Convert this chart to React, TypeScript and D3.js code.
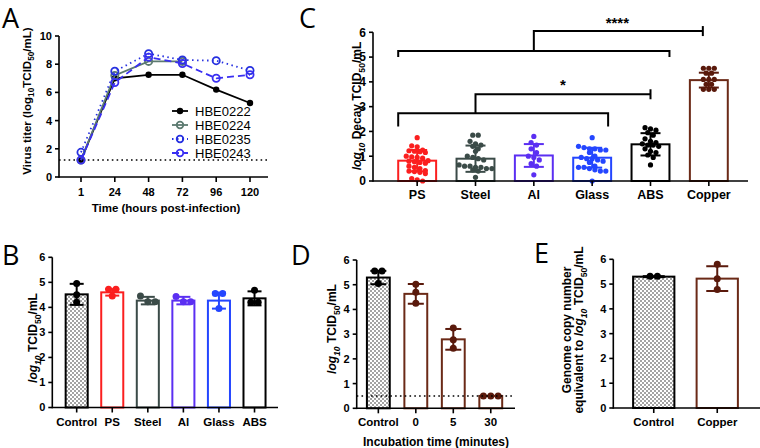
import * as d3 from "d3";

const FONT = "'Liberation Sans', Arial, Helvetica, sans-serif";

// ---- panel A: growth curves
const hours = ["1", "24", "48", "72", "96", "120"];
const hbe0222 = [1.2, 7.0, 7.25, 7.25, 6.2, 5.25];
const hbe0224 = [1.2, 7.2, 8.2, 8.2, null, null];
const hbe0235 = [1.75, 7.5, 8.75, 8.3, 8.25, 7.55];
const hbe0243 = [1.2, 6.7, 8.5, 8.05, 7.0, 7.25];
const limitA = 1.2;

// ---- panel B: titer after drying on surfaces
const surfB = ["Control", "PS", "Steel", "Al", "Glass", "ABS"];
const meanB = [4.52, 4.6, 4.27, 4.27, 4.27, 4.36];
const sdB = [0.42, 0.13, 0.15, 0.15, 0.32, 0.28];
const ptsB = [
  [4.95, 4.5, 4.2],
  [4.72, 4.72, 4.45],
  [4.45, 4.22, 4.22],
  [4.43, 4.22, 4.22],
  [4.55, 4.55, 3.95],
  [4.68, 4.2, 4.2],
];

// ---- panel C: decay per surface
const surfC = ["PS", "Steel", "Al", "Glass", "ABS", "Copper"];
const meanC = [0.82, 0.9, 1.03, 0.94, 1.48, 4.07];
const sdC = [0.43, 0.53, 0.46, 0.4, 0.45, 0.3];
const ptsC = [
  [1.75, 1.42, 1.38, 1.25, 1.22, 1.2, 1.18, 1.15, 1.0, 0.97, 0.95, 0.92, 0.82, 0.8, 0.78, 0.75, 0.72, 0.6, 0.55, 0.5, 0.42, 0.4, 0.38, 0.35, 0.3, 0.1, 0.05, 0.0],
  [1.85, 1.85, 1.6, 1.5, 1.45, 1.4, 1.3, 1.2, 1.0, 0.95, 0.9, 0.85, 0.65, 0.6, 0.6, 0.55, 0.55, 0.5, 0.5, 0.45, 0.4, 0.15],
  [1.8, 1.55, 1.45, 1.3, 1.15, 1.0, 0.95, 0.85, 0.7, 0.6, 0.25],
  [1.75, 1.4, 1.35, 1.3, 1.3, 1.25, 1.25, 1.15, 1.0, 0.95, 0.9, 0.9, 0.85, 0.8, 0.75, 0.6, 0.55, 0.55, 0.5, 0.45, 0.4, 0.4, 0.0],
  [2.15, 2.1, 2.05, 1.95, 1.85, 1.7, 1.6, 1.55, 1.5, 1.45, 1.45, 1.4, 1.3, 1.2, 1.15, 1.05, 0.95, 0.65],
  [4.55, 4.55, 4.55, 4.35, 4.35, 4.1, 4.1, 4.1, 3.9, 3.9, 3.7, 3.7, 3.7],
];

// ---- panel D: incubation on copper
const timeD = ["Control", "0", "5", "30"];
const meanD = [5.29, 4.63, 2.79, 0.5];
const sdD = [0.27, 0.4, 0.42, 0];
const ptsD = [
  [5.55, 5.55, 5.05],
  [5.02, 4.7, 4.25],
  [3.25, 2.77, 2.43],
  [0.5, 0.5, 0.5],
];
const limitD = 0.5;

// ---- panel E: genome copies
const groupE = ["Control", "Copper"];
const meanE = [5.3, 5.22];
const sdE = [0.02, 0.5];
const ptsE = [
  [5.32, 5.32],
  [5.8, 5.22, 4.78],
];

const RED = "#fb1f1f";
const SLATE = "#3b4b48";
const PURPLE = "#5b2ff2";
const BLUE = "#2446ff";
const BROWN = "#6b2a17";
const BROWN_DOT = "#5a1a0c";

// rows of dots, spread symmetrically like a column scatter
function swarm(values: number[], y: (v: number) => number, r: number) {
  const sorted = values.map((v) => y(v)).sort((a, b) => a - b);
  const rows: number[][] = [];
  let start = -1e9;
  sorted.forEach((py) => {
    if (py - start > r * 1.8) {
      rows.push([]);
      start = py;
    }
    rows[rows.length - 1].push(py);
  });
  const out: { dx: number; py: number }[] = [];
  rows.forEach((row) => {
    const n = row.length;
    row.forEach((py, i) => out.push({ dx: (i - (n - 1) / 2) * r * 2.1, py }));
  });
  return out;
}

// text with subscripts; parts: [text, "sub" | "it" | "itsub" | ""]
type Part = [string, string];
function Rich({ parts, size }: { parts: Part[]; size: number }) {
  let shift = 0;
  const drop = size * 0.3;
  return (
    <>
      {parts.map(([t, k], i) => {
        const sub = k.includes("sub");
        const target = sub ? drop : 0;
        const dy = target - shift;
        shift = target;
        return (
          <tspan
            key={i}
            dy={dy}
            fontSize={sub ? size * 0.72 : size}
            fontStyle={k.includes("it") ? "italic" : "normal"}
          >
            {t}
          </tspan>
        );
      })}
    </>
  );
}

function YAxis({ x, y, max, step, font }: { x: number; y: d3.ScaleLinear<number, number>; max: number; step: number; font: number }) {
  const ticks = d3.range(0, max + 0.001, step);
  return (
    <g>
      <line x1={x} x2={x} y1={y(0) + 0.8} y2={y(max)} stroke="#000" strokeWidth={1.6} />
      {ticks.map((t) => (
        <g key={t}>
          <line x1={x - 4} x2={x} y1={y(t)} y2={y(t)} stroke="#000" strokeWidth={1.6} />
          <text x={x - 7} y={y(t)} dy="0.36em" textAnchor="end" fontSize={font} fontWeight="bold" fontFamily={FONT}>
            {t}
          </text>
        </g>
      ))}
    </g>
  );
}

type BarProps = {
  cats: string[];
  means: number[];
  sds: number[];
  pts: number[][];
  strokes: string[];
  dots: string[];
  range: [number, number];
  axisX0: number;
  axisX1: number;
  y0: number;
  y6: number;
  pad: number;
  cap: number;
  r: number;
  font: number;
  limit?: number;
  children?: any;
};

function BarPanel(p: BarProps) {
  const y = d3.scaleLinear().domain([0, 6]).range([p.y0, p.y6]);
  const x = d3.scaleBand<string>().domain(p.cats).range(p.range).paddingInner(p.pad).paddingOuter(p.pad / 2);
  const bw = x.bandwidth();
  return (
    <g>
      {p.cats.map((c, i) => {
        const cx = (x(c) as number) + bw / 2;
        const m = p.means[i];
        const sd = p.sds[i];
        return (
          <g key={c}>
            <rect
              x={x(c)}
              y={y(m)}
              width={bw}
              height={y(0) - y(m)}
              fill={c === "Control" ? "url(#stipple)" : "#fff"}
              stroke={p.strokes[i]}
              strokeWidth={2}
            />
            {swarm(p.pts[i], y, p.r).map((d, k) => (
              <circle key={k} cx={cx + d.dx} cy={d.py} r={p.r} fill={p.dots[i]} />
            ))}
            {sd > 0 && (
              <g stroke={p.strokes[i] === "#000" ? "#000" : p.dots[i]} strokeWidth={2}>
                <line x1={cx} x2={cx} y1={y(m + sd)} y2={y(m - sd)} />
                <line x1={cx - p.cap} x2={cx + p.cap} y1={y(m + sd)} y2={y(m + sd)} />
                <line x1={cx - p.cap} x2={cx + p.cap} y1={y(m - sd)} y2={y(m - sd)} />
              </g>
            )}
          </g>
        );
      })}
      {p.limit !== undefined && (
        <line x1={p.axisX0} x2={p.axisX1} y1={y(p.limit)} y2={y(p.limit)} stroke="#000" strokeWidth={1.5} strokeDasharray="1.6,3.2" />
      )}
      <YAxis x={p.axisX0} y={y} max={6} step={1} font={p.font} />
      <line x1={p.axisX0} x2={p.axisX1} y1={y(0)} y2={y(0)} stroke="#000" strokeWidth={1.6} />
      {p.cats.map((c) => {
        const cx = (x(c) as number) + bw / 2;
        return (
          <g key={c}>
            <line x1={cx} x2={cx} y1={y(0)} y2={y(0) + 5} stroke="#000" strokeWidth={1.6} />
            <text x={cx} y={y(0) + 18} textAnchor="middle" fontSize={p.font + 0.5} fontWeight="bold" fontFamily={FONT}>
              {c}
            </text>
          </g>
        );
      })}
      {p.children && p.children(x, y)}
    </g>
  );
}

function PanelA() {
  const x = d3.scalePoint<string>().domain(hours).range([81, 250]);
  const y = d3.scaleLinear().domain([0, 10]).range([177, 36]);
  const series = [
    { name: "HBE0222", v: hbe0222, color: "#000", dash: "none", filled: true },
    { name: "HBE0224", v: hbe0224, color: "#5c7a70", dash: "none", filled: false },
    { name: "HBE0235", v: hbe0235, color: "#2630e0", dash: "1.5,3.5", filled: false },
    { name: "HBE0243", v: hbe0243, color: "#3a2ff2", dash: "7,4", filled: false },
  ];
  const line = d3
    .line<number | null>()
    .defined((d) => d !== null)
    .x((_, i) => x(hours[i]) as number)
    .y((d) => y(d as number));
  return (
    <g>
      <line x1={59} x2={268} y1={y(limitA)} y2={y(limitA)} stroke="#000" strokeWidth={1.5} strokeDasharray="1.6,3.2" />
      {series.map((s) => (
        <g key={s.name}>
          <path d={line(s.v) as string} fill="none" stroke={s.color} strokeWidth={1.8} strokeDasharray={s.dash} />
          {s.v.map((d, i) =>
            d === null ? null : (
              <circle
                key={i}
                cx={x(hours[i])}
                cy={y(d)}
                r={s.filled ? 3.2 : 3.6}
                fill={s.filled ? s.color : "none"}
                stroke={s.color}
                strokeWidth={s.filled ? 0 : 1.8}
              />
            )
          )}
        </g>
      ))}
      {series.map((s, i) => {
        const ly = 111 + i * 14;
        return (
          <g key={s.name}>
            <line x1={172} x2={188} y1={ly} y2={ly} stroke={s.color} strokeWidth={1.8} strokeDasharray={s.dash} />
            <circle cx={180} cy={ly} r={s.filled ? 3.2 : 3.3} fill={s.filled ? s.color : "none"} stroke={s.color} strokeWidth={s.filled ? 0 : 1.8} />
            <text x={195} y={ly} dy="0.36em" fontSize={13} fontFamily={FONT}>
              {s.name}
            </text>
          </g>
        );
      })}
      <YAxis x={59} y={y} max={10} step={2} font={11} />
      <line x1={59} x2={268} y1={177} y2={177} stroke="#000" strokeWidth={1.6} />
      {hours.map((h) => (
        <g key={h}>
          <line x1={x(h)} x2={x(h)} y1={177} y2={182} stroke="#000" strokeWidth={1.6} />
          <text x={x(h)} y={196} textAnchor="middle" fontSize={11} fontWeight="bold" fontFamily={FONT}>
            {h}
          </text>
        </g>
      ))}
      <text x={166} y={212} textAnchor="middle" fontSize={11.5} fontWeight="bold" fontFamily={FONT}>
        Time (hours post-infection)
      </text>
      <text transform="translate(31,101) rotate(-90)" textAnchor="middle" fontWeight="bold" fontFamily={FONT}>
        <Rich size={11.5} parts={[["Virus titer (log", ""], ["10", "sub"], ["TCID", ""], ["50", "sub"], ["/mL)", ""]]} />
      </text>
    </g>
  );
}

const Letter = ({ x, y, t }: { x: number; y: number; t: string }) => (
  <text x={x} y={y} fontSize={27} fontFamily="'Open Sans', 'DejaVu Sans', sans-serif" fontWeight={400}>
    {t}
  </text>
);

const titerParts: Part[] = [["log", "it"], ["10", "itsub"], [" TCID", ""], ["50", "sub"], ["/mL", ""]];

export default function App() {
  return (
    <svg width={760} height={448} style={{ position: "absolute", left: 0, top: 0, background: "#fff" }}>
      <defs>
        <pattern id="stipple" width={4} height={4} patternUnits="userSpaceOnUse">
          <rect width={4} height={4} fill="#fff" />
          <circle cx={1} cy={1} r={0.7} fill="#000" />
          <circle cx={3} cy={3} r={0.7} fill="#000" />
        </pattern>
      </defs>
      <rect width={760} height={448} fill="#fff" />

      <Letter x={2} y={28} t="A" />
      <PanelA />

      <Letter x={299} y={28} t="C" />
      <BarPanel
        cats={surfC}
        means={meanC}
        sds={sdC}
        pts={ptsC}
        strokes={[RED, SLATE, PURPLE, BLUE, "#000", BROWN]}
        dots={[RED, SLATE, PURPLE, BLUE, "#000", BROWN_DOT]}
        range={[388, 738]}
        axisX0={373}
        axisX1={748}
        y0={181}
        y6={32.3}
        pad={0.35}
        cap={10}
        r={2.6}
        font={12}
      >
        {(x: d3.ScaleBand<string>, y: d3.ScaleLinear<number, number>) => {
          const bw = x.bandwidth();
          const c = (k: string) => (x(k) as number) + bw / 2;
          const psLeft = x("PS") as number;
          const b1Right = (x("Glass") as number) + bw - 3;
          const b2Right = (x("ABS") as number) + bw;
          return (
            <g stroke="#000" strokeWidth={2} fill="none">
              <path d={`M${psLeft},${y(2.2)}V${y(2.73)}H${b1Right}V${y(2.2)}`} />
              <path d={`M${c("Steel")},${y(2.73)}V${y(3.5)}H${c("ABS")}`} />
              <line x1={c("ABS")} x2={c("ABS")} y1={y(3.5) - 5} y2={y(3.5) + 5} />
              <path d={`M${psLeft},${y(5.0)}V${y(5.25)}H${b2Right}V${y(5.0)}`} />
              <path d={`M${c("Al")},${y(5.25)}V${y(6.05)}H${c("Copper") - 6}`} />
              <line x1={c("Copper") - 6} x2={c("Copper") - 6} y1={y(6.05) - 5} y2={y(6.05) + 5} />
              <text x={(c("Steel") + c("ABS")) / 2} y={y(3.5) - 4} textAnchor="middle" fontSize={15} fontWeight="bold" fontFamily={FONT} fill="#000" stroke="none">
                *
              </text>
              <text x={(c("Al") + c("Copper")) / 2 - 4} y={y(6.05) - 3} textAnchor="middle" fontSize={15} fontWeight="bold" fontFamily={FONT} fill="#000" stroke="none">
                ****
              </text>
            </g>
          );
        }}
      </BarPanel>
      <text transform="translate(361,106) rotate(-90)" textAnchor="middle" fontWeight="bold" fontFamily={FONT}>
        <Rich size={12} parts={[["log", "it"], ["10", "itsub"], [" Decay TCID", ""], ["50", "sub"], ["/mL", ""]]} />
      </text>

      <Letter x={2} y={265} t="B" />
      <BarPanel
        cats={surfB}
        means={meanB}
        sds={sdB}
        pts={ptsB}
        strokes={["#000", RED, SLATE, PURPLE, BLUE, "#000"]}
        dots={["#000", RED, SLATE, PURPLE, BLUE, "#000"]}
        range={[58.9, 272.3]}
        axisX0={52.3}
        axisX1={278}
        y0={407.5}
        y6={257.3}
        pad={0.38}
        cap={7}
        r={3.5}
        font={11}
      />
      <text transform="translate(37,338) rotate(-90)" textAnchor="middle" fontWeight="bold" fontFamily={FONT}>
        <Rich size={12} parts={titerParts} />
      </text>

      <Letter x={291} y={265} t="D" />
      <BarPanel
        cats={timeD}
        means={meanD}
        sds={sdD}
        pts={ptsD}
        strokes={["#000", BROWN, BROWN, BROWN]}
        dots={["#000", BROWN_DOT, BROWN_DOT, BROWN_DOT]}
        range={[359.6, 509.5]}
        axisX0={356.7}
        axisX1={515}
        y0={408.3}
        y6={260}
        pad={0.39}
        cap={8}
        r={3.5}
        font={11}
        limit={limitD}
      />
      <text transform="translate(336,329) rotate(-90)" textAnchor="middle" fontWeight="bold" fontFamily={FONT}>
        <Rich size={12} parts={titerParts} />
      </text>
      <text x={436} y={446} textAnchor="middle" fontSize={12} fontWeight="bold" fontFamily={FONT}>
        Incubation time (minutes)
      </text>

      <Letter x={534} y={263} t="E" />
      <BarPanel
        cats={groupE}
        means={meanE}
        sds={sdE}
        pts={ptsE}
        strokes={["#000", BROWN]}
        dots={["#000", BROWN_DOT]}
        range={[622, 749]}
        axisX0={613.3}
        axisX1={760}
        y0={408}
        y6={259.3}
        pad={0.35}
        cap={11}
        r={3.5}
        font={11}
      />
      <text transform="translate(571,330) rotate(-90)" textAnchor="middle" fontSize={12} fontWeight="bold" fontFamily={FONT}>
        Genome copy number
      </text>
      <text transform="translate(583,330) rotate(-90)" textAnchor="middle" fontWeight="bold" fontFamily={FONT}>
        <Rich size={12} parts={[["equivalent to ", ""], ["log", "it"], ["10", "itsub"], [" TCID", ""], ["50", "sub"], ["/mL", ""]]} />
      </text>
    </svg>
  );
}
